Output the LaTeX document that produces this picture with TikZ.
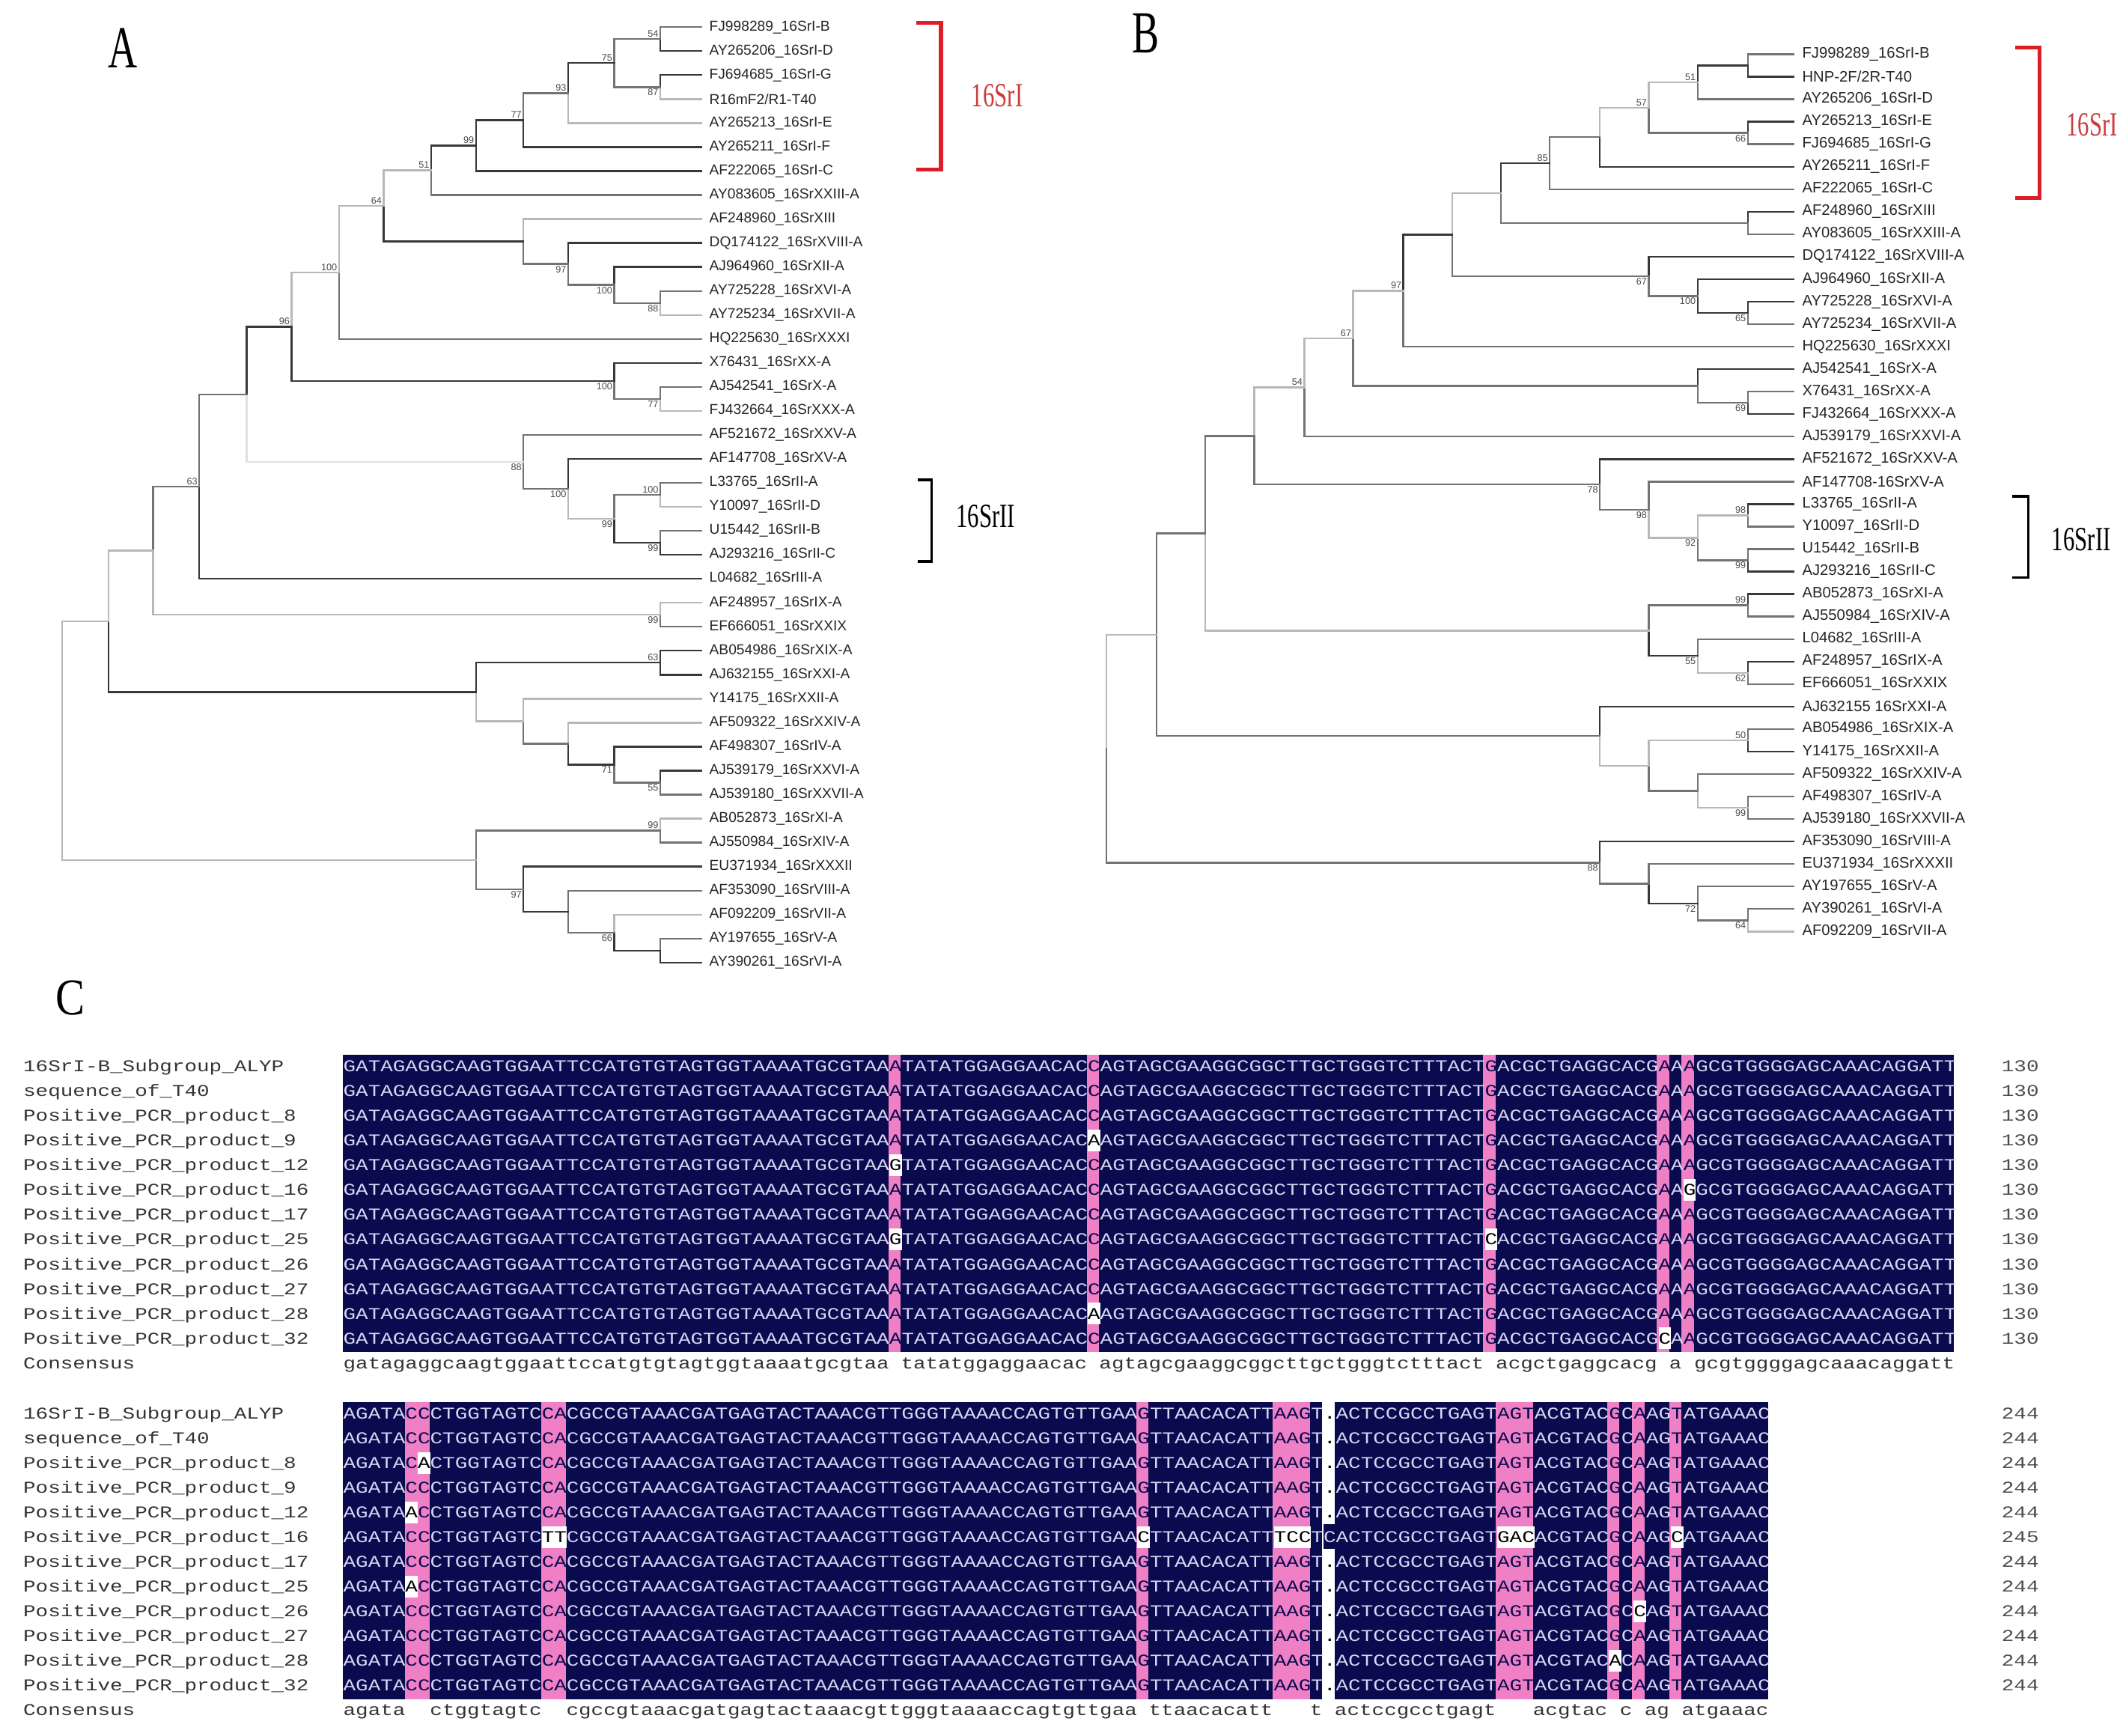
\documentclass[tikz,border=0pt]{standalone}
\usepackage{fontspec}
\setmainfont{Liberation Serif}
\newfontfamily\lsans{Liberation Sans}
\newfontfamily\lmono[FakeStretch=1.25]{Liberation Mono}
\newfontfamily\cserif[FakeStretch=0.68]{Liberation Serif}
\newfontfamily\wserif[FakeStretch=0.85]{Liberation Serif}
\newcommand\seqfont{\lmono\fontsize{12.2}{14}\selectfont}
\definecolor{navy}{RGB}{10,10,78}
\definecolor{pinkc}{RGB}{240,128,198}
\definecolor{seqtx}{RGB}{214,214,244}
\definecolor{redbr}{RGB}{220,30,40}
\definecolor{redtx}{RGB}{205,60,60}
\colorlet{dk}{black!78}
\colorlet{md}{black!55}
\colorlet{lt}{black!28}
\colorlet{vl}{black!12}
\newcommand\pk[1]{\textcolor{navy}{#1}}
\newcommand\vr[1]{{\fboxsep0pt\colorbox{white}{\rule[-4pt]{0pt}{16pt}\textcolor{black}{#1}}}}
\newcommand\cl[2]{\edef\cla{#1}\edef\clb{#2}\ifx\cla\clb\pk{#2}\else\vr{#1}\fi}
\def\dotc{.}
\newcommand\gp[1]{\edef\cla{#1}\ifx\cla\dotc\textcolor{black}{.}\else{\fboxsep0pt\colorbox{navy}{\rule[-4.6pt]{0pt}{18.25pt}#1}}\fi}
\newcommand\rowA{GATAGAGGCAAGTGGAATTCCATGTGTAGTGGTAAAATGCGTAA\cl{\ua}{A}TATATGGAGGAACAC\cl{\ub}{C}AGTAGCGAAGGCGGCTTGCTGGGTCTTTACT\cl{\uc}{G}ACGCTGAGGCACG\cl{\ud}{A}A\cl{\ue}{A}GCGTGGGGAGCAAACAGGATT}
\newcommand\rowB{AGATA\cl{\qa}{C}\cl{\qb}{C}CTGGTAGTC\cl{\qc}{CA}CGCCGTAAACGATGAGTACTAAACGTTGGGTAAAACCAGTGTTGAA\cl{\qd}{G}TTAACACATT\cl{\qe}{AAG}T\gp{\qf}ACTCCGCCTGAGT\cl{\qg}{AGT}ACGTAC\cl{\qh}{G}C\cl{\qi}{A}AG\cl{\qj}{T}ATGAAAC}
\begin{document}
\begin{tikzpicture}[x=1pt, y=-1pt, line cap=rect,
  br/.style={line width=1.3pt},
  leafa/.style={anchor=west, inner xsep=6pt, inner ysep=0pt, text=black!85, font=\lsans\fontsize{10.6}{12}\selectfont},
  leafb/.style={leafa, font=\lsans\fontsize{11.2}{12}\selectfont},
  bs/.style={inner sep=1.2pt, text=black!70, font=\lsans\fontsize{7}{8}\selectfont},
  pl/.style={inner sep=0pt, font=\cserif\fontsize{44}{44}\selectfont},
  grp/.style={inner sep=0pt, font=\cserif\fontsize{25}{25}\selectfont},
  nm/.style={anchor=west, inner sep=0pt, text=black!80, font=\seqfont, text height=8pt, text depth=1.5pt},
  sq/.style={nm, text=seqtx},
  num/.style={inner sep=0pt, text=black!70, font=\seqfont, text height=8pt, text depth=1.5pt}]
\useasboundingbox (0,0) rectangle (1568,1280);
\def\cw{9.14} \def\rh{18.25}
\node[pl] (lA) at (90.5,35.5) {A};
\node[pl] (lB) at (845,24.5) {B};
\node[inner sep=0pt, font=\wserif\fontsize{38}{38}\selectfont] (lC) at (52,736) {C};

% tree A
\begin{scope}[y=-17.69pt, shift={(0pt,-2.31pt)}]
\foreach \t [count=\i] in {FJ998289\_16SrI-B, AY265206\_16SrI-D, FJ694685\_16SrI-G, R16mF2/R1-T40, AY265213\_16SrI-E, AY265211\_16SrI-F, AF222065\_16SrI-C, AY083605\_16SrXXIII-A, AF248960\_16SrXIII, DQ174122\_16SrXVIII-A, AJ964960\_16SrXII-A, AY725228\_16SrXVI-A, AY725234\_16SrXVII-A, HQ225630\_16SrXXXI, X76431\_16SrXX-A, AJ542541\_16SrX-A, FJ432664\_16SrXXX-A, AF521672\_16SrXXV-A, AF147708\_16SrXV-A, L33765\_16SrII-A, Y10097\_16SrII-D, U15442\_16SrII-B, AJ293216\_16SrII-C, L04682\_16SrIII-A, AF248957\_16SrIX-A, EF666051\_16SrXXIX, AB054986\_16SrXIX-A, AJ632155\_16SrXXI-A, Y14175\_16SrXXII-A, AF509322\_16SrXXIV-A, AF498307\_16SrIV-A, AJ539179\_16SrXXVI-A, AJ539180\_16SrXXVII-A, AB052873\_16SrXI-A, AJ550984\_16SrXIV-A, EU371934\_16SrXXXII, AF353090\_16SrVIII-A, AF092209\_16SrVII-A, AY197655\_16SrV-A, AY390261\_16SrVI-A}
  \node[leafa] (a\i) at (517,\i) {\t};
\coordinate[label={[bs]above left:54}] (ia01) at (487,1.5);
\coordinate[label={[bs]below left:87}] (ia02) at (487,3.5);
\coordinate[label={[bs]above left:75}] (ia03) at (453,2.5);
\coordinate[label={[bs]above left:93}] (ia04) at (419,3.75);
\coordinate[label={[bs]above left:77}] (ia05) at (386,4.875);
\coordinate[label={[bs]above left:99}] (ia06) at (351,5.9375);
\coordinate[label={[bs]above left:51}] (ia07) at (318,6.96875);
\coordinate[label={[bs]below left:88}] (ia08) at (487,12.5);
\coordinate[label={[bs]below left:100}] (ia09) at (453,11.75);
\coordinate[label={[bs]below left:97}] (ia10) at (419,10.875);
\coordinate (ia11) at (386,9.9375);
\coordinate[label={[bs]above left:64}] (ia12) at (283,8.453);
\coordinate[label={[bs]above left:100}] (ia13) at (250,11.227);
\coordinate[label={[bs]below left:77}] (ia14) at (487,16.5);
\coordinate[label={[bs]below left:100}] (ia15) at (453,15.75);
\coordinate[label={[bs]above left:96}] (ia16) at (215,13.488);
\coordinate[label={[bs]above left:100}] (ia17) at (487,20.5);
\coordinate[label={[bs]below left:99}] (ia18) at (487,22.5);
\coordinate[label={[bs]below left:99}] (ia19) at (453,21.5);
\coordinate[label={[bs]below left:100}] (ia20) at (419,20.25);
\coordinate[label={[bs]below left:88}] (ia21) at (386,19.125);
\coordinate (ia22) at (182,16.307);
\coordinate[label={[bs]above left:63}] (ia23) at (147,20.153);
\coordinate[label={[bs]below left:99}] (ia24) at (487,25.5);
\coordinate (ia25) at (113,22.827);
\coordinate[label={[bs]above left:63}] (ia26) at (487,27.5);
\coordinate[label={[bs]below left:55}] (ia27) at (487,32.5);
\coordinate[label={[bs]below left:71}] (ia28) at (453,31.75);
\coordinate (ia29) at (419,30.875);
\coordinate (ia30) at (386,29.9375);
\coordinate (ia31) at (351,28.72);
\coordinate (ia32) at (80,25.77);
\coordinate[label={[bs]above left:99}] (ia33) at (487,34.5);
\coordinate (ia34) at (487,39.5);
\coordinate[label={[bs]below left:66}] (ia35) at (453,38.75);
\coordinate (ia36) at (419,37.875);
\coordinate[label={[bs]below left:97}] (ia37) at (386,36.9375);
\coordinate (ia38) at (351,35.72);
\coordinate (ia39) at (46,30.75);
\foreach \p/\c/\k in {ia01/a1.west/md, ia01/a2.west/dk, ia02/a3.west/dk, ia02/a4.west/lt,
  ia03/ia01/md, ia03/ia02/md, ia04/ia03/dk, ia04/a5.west/lt, ia05/ia04/md, ia05/a6.west/dk,
  ia06/ia05/dk, ia06/a7.west/dk, ia07/ia06/dk, ia07/a8.west/md, ia08/a12.west/md, ia08/a13.west/lt,
  ia09/a11.west/dk, ia09/ia08/md, ia10/a10.west/dk, ia10/ia09/md, ia11/a9.west/lt, ia11/ia10/md,
  ia12/ia07/lt, ia12/ia11/dk, ia13/ia12/lt, ia13/a14.west/md, ia14/a16.west/md, ia14/a17.west/lt,
  ia15/a15.west/dk, ia15/ia14/md, ia16/ia13/lt, ia16/ia15/dk, ia17/a20.west/md, ia17/a21.west/lt,
  ia18/a22.west/md, ia18/a23.west/dk, ia19/ia17/md, ia19/ia18/dk, ia20/a19.west/dk, ia20/ia19/lt,
  ia21/a18.west/md, ia21/ia20/md, ia22/ia16/dk, ia22/ia21/vl, ia23/ia22/md, ia23/a24.west/dk,
  ia24/a25.west/lt, ia24/a26.west/md, ia25/ia23/md, ia25/ia24/lt, ia26/a27.west/dk, ia26/a28.west/dk,
  ia27/a32.west/dk, ia27/a33.west/md, ia28/a31.west/dk, ia28/ia27/md, ia29/a30.west/lt, ia29/ia28/dk,
  ia30/a29.west/lt, ia30/ia29/md, ia31/ia26/dk, ia31/ia30/lt, ia32/ia25/lt, ia32/ia31/dk,
  ia33/a34.west/lt, ia33/a35.west/md, ia34/a39.west/md, ia34/a40.west/dk, ia35/a38.west/lt, ia35/ia34/dk,
  ia36/a37.west/md, ia36/ia35/md, ia37/a36.west/dk, ia37/ia36/dk, ia38/ia33/md, ia38/ia37/md,
  ia39/ia32/lt, ia39/ia38/lt}
  \draw[br, color=\k] (\p) |- (\c);
\end{scope}

% tree B
\begin{scope}[y=-16.59pt, shift={(0pt,-23.41pt)}]
\foreach \t [count=\i] in {FJ998289\_16SrI-B, HNP-2F/2R-T40, AY265206\_16SrI-D, AY265213\_16SrI-E, FJ694685\_16SrI-G, AY265211\_16SrI-F, AF222065\_16SrI-C, AF248960\_16SrXIII, AY083605\_16SrXXIII-A, DQ174122\_16SrXVIII-A, AJ964960\_16SrXII-A, AY725228\_16SrXVI-A, AY725234\_16SrXVII-A, HQ225630\_16SrXXXI, AJ542541\_16SrX-A, X76431\_16SrXX-A, FJ432664\_16SrXXX-A, AJ539179\_16SrXXVI-A, AF521672\_16SrXXV-A, AF147708-16SrXV-A, L33765\_16SrII-A, Y10097\_16SrII-D, U15442\_16SrII-B, AJ293216\_16SrII-C, AB052873\_16SrXI-A, AJ550984\_16SrXIV-A, L04682\_16SrIII-A, AF248957\_16SrIX-A, EF666051\_16SrXXIX, AJ632155 16SrXXI-A, AB054986\_16SrXIX-A, Y14175\_16SrXXII-A, AF509322\_16SrXXIV-A, AF498307\_16SrIV-A, AJ539180\_16SrXXVII-A, AF353090\_16SrVIII-A, EU371934\_16SrXXXII, AY197655\_16SrV-A, AY390261\_16SrVI-A, AF092209\_16SrVII-A}
  \node[leafb] (b\i) at (1323,\i) {\t};
\coordinate (ib01) at (1289,1.5);
\coordinate[label={[bs]above left:51}] (ib02) at (1252,2.25);
\coordinate[label={[bs]below left:66}] (ib03) at (1289,4.5);
\coordinate[label={[bs]above left:57}] (ib04) at (1216,3.375);
\coordinate (ib05) at (1180,4.6875);
\coordinate[label={[bs]above left:85}] (ib06) at (1143,5.84375);
\coordinate (ib07) at (1289,8.5);
\coordinate (ib08) at (1107,7.172);
\coordinate[label={[bs]below left:65}] (ib09) at (1289,12.5);
\coordinate[label={[bs]below left:100}] (ib10) at (1252,11.75);
\coordinate[label={[bs]below left:67}] (ib11) at (1216,10.875);
\coordinate (ib12) at (1071,9.023);
\coordinate[label={[bs]above left:97}] (ib13) at (1035,11.512);
\coordinate[label={[bs]below left:69}] (ib14) at (1289,16.5);
\coordinate (ib15) at (1252,15.75);
\coordinate[label={[bs]above left:67}] (ib16) at (998,13.631);
\coordinate[label={[bs]above left:54}] (ib17) at (962,15.816);
\coordinate[label={[bs]above left:98}] (ib18) at (1289,21.5);
\coordinate[label={[bs]below left:99}] (ib19) at (1289,23.5);
\coordinate[label={[bs]below left:92}] (ib20) at (1252,22.5);
\coordinate[label={[bs]below left:98}] (ib21) at (1216,21.25);
\coordinate[label={[bs]below left:78}] (ib22) at (1180,20.125);
\coordinate (ib23) at (925,17.97);
\coordinate[label={[bs]above left:99}] (ib24) at (1289,25.5);
\coordinate[label={[bs]below left:62}] (ib25) at (1289,28.5);
\coordinate[label={[bs]below left:55}] (ib26) at (1252,27.75);
\coordinate (ib27) at (1216,26.625);
\coordinate (ib28) at (889,22.298);
\coordinate[label={[bs]above left:50}] (ib29) at (1289,31.5);
\coordinate[label={[bs]below left:99}] (ib30) at (1289,34.5);
\coordinate (ib31) at (1252,33.75);
\coordinate (ib32) at (1216,32.625);
\coordinate (ib33) at (1180,31.3125);
\coordinate (ib34) at (853,26.805);
\coordinate[label={[bs]below left:64}] (ib35) at (1289,39.5);
\coordinate[label={[bs]below left:72}] (ib36) at (1252,38.75);
\coordinate (ib37) at (1216,37.875);
\coordinate[label={[bs]below left:88}] (ib38) at (1180,36.9375);
\coordinate (ib39) at (816,31.87);
\foreach \p/\c/\k in {ib01/b1.west/md, ib01/b2.west/dk, ib02/ib01/dk, ib02/b3.west/md,
  ib03/b4.west/dk, ib03/b5.west/md, ib04/ib02/lt, ib04/ib03/md, ib05/ib04/lt, ib05/b6.west/dk,
  ib06/ib05/md, ib06/b7.west/md, ib07/b8.west/dk, ib07/b9.west/md, ib08/ib06/dk, ib08/ib07/md,
  ib09/b12.west/dk, ib09/b13.west/md, ib10/b11.west/dk, ib10/ib09/dk, ib11/b10.west/dk, ib11/ib10/md,
  ib12/ib08/lt, ib12/ib11/md, ib13/ib12/dk, ib13/b14.west/md, ib14/b16.west/md, ib14/b17.west/dk,
  ib15/b15.west/dk, ib15/ib14/md, ib16/ib13/lt, ib16/ib15/md, ib17/ib16/lt, ib17/b18.west/md,
  ib18/b21.west/dk, ib18/b22.west/md, ib19/b23.west/md, ib19/b24.west/dk, ib20/ib18/lt, ib20/ib19/md,
  ib21/b20.west/md, ib21/ib20/lt, ib22/b19.west/dk, ib22/ib21/md, ib23/ib17/lt, ib23/ib22/md,
  ib24/b25.west/dk, ib24/b26.west/md, ib25/b28.west/dk, ib25/b29.west/md, ib26/b27.west/md, ib26/ib25/lt,
  ib27/ib24/md, ib27/ib26/dk, ib28/ib23/md, ib28/ib27/lt, ib29/b31.west/md, ib29/b32.west/dk,
  ib30/b34.west/md, ib30/b35.west/md, ib31/b33.west/md, ib31/ib30/lt, ib32/ib29/lt, ib32/ib31/md,
  ib33/b30.west/dk, ib33/ib32/lt, ib34/ib28/md, ib34/ib33/md, ib35/b39.west/md, ib35/b40.west/lt,
  ib36/b38.west/md, ib36/ib35/md, ib37/b37.west/md, ib37/ib36/dk, ib38/b36.west/dk, ib38/ib37/md,
  ib39/ib34/lt, ib39/ib38/md}
  \draw[br, color=\k] (\p) |- (\c);
\end{scope}

% group brackets
\draw[redbr, line width=2.8pt, line cap=butt] (676,17) -- (694,17) -- (694,125) -- (676,125);
\draw[redbr, line width=2.8pt, line cap=butt] (1486,35) -- (1504,35) -- (1504,146) -- (1486,146);
\draw[black, line width=2pt, line cap=butt] (677,354) -- (687,354) -- (687,414) -- (677,414);
\draw[black, line width=2pt, line cap=butt] (1484,366) -- (1496,366) -- (1496,426) -- (1484,426);
\node[grp, text=redtx] (g1a) at (735.5,70.5) {16SrI};
\node[grp] (g2a) at (727,381) {16SrII};
\node[grp, text=redtx] (g1b) at (1543,92) {16SrI};
\node[grp] (g2b) at (1535,398) {16SrII};

% alignment C
\fill[navy] (253,778) rectangle ({253+130*\cw},{778+12*\rh});
\fill[navy] (253,1034) rectangle ({253+115*\cw},{1034+12*\rh});
\foreach \c in {45,61,93,107,109}
  \fill[pinkc] ({253+(\c-1)*\cw},778) rectangle +(\cw,{12*\rh});
\foreach \c in {6,7,17,18,65,76,77,78,94,95,96,103,105,108}
  \fill[pinkc] ({253+(\c-1)*\cw},1034) rectangle +(\cw,{12*\rh});
\fill[white] ({253+79*\cw},1034) rectangle +(\cw,{12*\rh});
\foreach \nm/\ua/\ub/\uc/\ud/\ue [count=\r] in {16SrI-B\_Subgroup\_ALYP/A/C/G/A/A, sequence\_of\_T40/A/C/G/A/A,
  Positive\_PCR\_product\_8/A/C/G/A/A, Positive\_PCR\_product\_9/A/A/G/A/A, Positive\_PCR\_product\_12/G/C/G/A/A,
  Positive\_PCR\_product\_16/A/C/G/A/G, Positive\_PCR\_product\_17/A/C/G/A/A, Positive\_PCR\_product\_25/G/C/C/A/A,
  Positive\_PCR\_product\_26/A/C/G/A/A, Positive\_PCR\_product\_27/A/C/G/A/A, Positive\_PCR\_product\_28/A/A/G/A/A,
  Positive\_PCR\_product\_32/A/C/G/C/A} {
  \node[nm] (na\r) at (17,{778+(\r-.5)*\rh}) {\nm};
  \node[sq] (sa\r) at (253,{778+(\r-.5)*\rh}) {\rowA};
  \node[num] (ca\r) at (1490,{778+(\r-.5)*\rh}) {130};
}
\foreach \nm/\qa/\qb/\qc/\qd/\qe/\qf/\qg/\qh/\qi/\qj [count=\r] in {16SrI-B\_Subgroup\_ALYP/C/C/CA/G/AAG/./AGT/G/A/T,
  sequence\_of\_T40/C/C/CA/G/AAG/./AGT/G/A/T, Positive\_PCR\_product\_8/C/A/CA/G/AAG/./AGT/G/A/T,
  Positive\_PCR\_product\_9/C/C/CA/G/AAG/./AGT/G/A/T, Positive\_PCR\_product\_12/A/C/CA/G/AAG/./AGT/G/A/T,
  Positive\_PCR\_product\_16/C/C/TT/C/TCC/C/GAC/G/A/C, Positive\_PCR\_product\_17/C/C/CA/G/AAG/./AGT/G/A/T,
  Positive\_PCR\_product\_25/A/C/CA/G/AAG/./AGT/G/A/T, Positive\_PCR\_product\_26/C/C/CA/G/AAG/./AGT/G/C/T,
  Positive\_PCR\_product\_27/C/C/CA/G/AAG/./AGT/G/A/T, Positive\_PCR\_product\_28/C/C/CA/G/AAG/./AGT/A/A/T,
  Positive\_PCR\_product\_32/C/C/CA/G/AAG/./AGT/G/A/T} {
  \node[nm] (nb\r) at (17,{1034+(\r-.5)*\rh}) {\nm};
  \node[sq] (sb\r) at (253,{1034+(\r-.5)*\rh}) {\rowB};
  \node[num] (cb\r) at (1490,{1034+(\r-.5)*\rh}) {\ifnum\r=6 245\else 244\fi};
}
\node[nm] (na13) at (17,{778+12.5*\rh}) {Consensus};
\node[nm] (nb13) at (17,{1034+12.5*\rh}) {Consensus};
\foreach \c/\t [count=\k] in {1/gatagaggcaagtggaattccatgtgtagtggtaaaatgcgtaa, 46/tatatggaggaacac, 62/agtagcgaaggcggcttgctgggtctttact, 94/acgctgaggcacg, 108/a, 110/gcgtggggagcaaacaggatt}
  \node[nm] (ka\k) at ({253+(\c-1)*\cw},{778+12.5*\rh}) {\t};
\foreach \c/\t [count=\k] in {1/agata, 8/ctggtagtc, 19/cgccgtaaacgatgagtactaaacgttgggtaaaaccagtgttgaa, 66/ttaacacatt, 79/t, 81/actccgcctgagt, 97/acgtac, 104/c, 106/ag, 109/atgaaac}
  \node[nm] (kb\k) at ({253+(\c-1)*\cw},{1034+12.5*\rh}) {\t};
\end{tikzpicture}
\end{document}
